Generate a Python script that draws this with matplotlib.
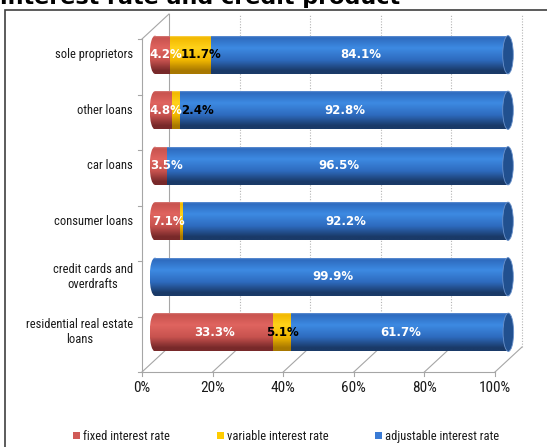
import numpy as np
import matplotlib
matplotlib.use('Agg')
import matplotlib.pyplot as plt
from matplotlib.colors import LinearSegmentedColormap
from matplotlib.patches import Ellipse, Rectangle
from matplotlib.lines import Line2D
from matplotlib.transforms import ScaledTranslation, IdentityTransform

# data, top row first
categories = ['sole proprietors', 'other loans', 'car loans', 'consumer loans',
              'credit cards and\noverdrafts', 'residential real estate\nloans']
fixed_rate = [4.2, 4.8, 3.5, 7.1, 0.1, 33.3]
variable_rate = [11.7, 2.4, 0.0, 0.7, 0.0, 5.1]
adjustable_rate = [84.1, 92.8, 96.5, 92.2, 99.9, 61.7]
series_names = ['fixed interest rate', 'variable interest rate', 'adjustable interest rate']
x_ticks = [0, 20, 40, 60, 80, 100]
title = 'interest rate and credit product'

# (edge, base, highlight, dark) for each series
shades = [
    ('#de918e', '#c8534f', '#e0645f', '#78292a'),
    ('#ffe27a', '#f2b800', '#ffd21a', '#a87800'),
    ('#7fa6dc', '#2e6bbf', '#3d8ae2', '#1a3a68'),
]
label_colors = ['white', 'black', 'white']
legend_colors = ['#d05a57', '#ffcc00', '#3a7bd5']

NARROW = ['Liberation Sans Narrow', 'DejaVu Sans Condensed', 'Roboto Condensed',
          'Open Sans Condensed', 'Noto Sans Condensed', 'Liberation Sans']

fig = plt.figure(figsize=(5.47, 4.47), dpi=100)
W, H = 547, 447
PX = (508 - 155) / 100.0          # pixels per percent in the bar plane
XMIN, XMAX = -5, 105
ax = fig.add_axes([(155 + XMIN * PX) / W, 1 - 360 / H,
                   (XMAX - XMIN) * PX / W, (360 - 27) / H])
ax.set_xlim(XMIN, XMAX)
ax.set_ylim(5.5, -0.5)
ax.axis('off')

bar_h = 0.69
cap_w = 3.0


def make_cmap(s):
    edge, base, hi, dark = s
    return LinearSegmentedColormap.from_list('c', [
        (0.0, edge), (0.06, base), (0.33, hi), (0.64, base), (0.92, dark), (1.0, dark)])


cmaps = [make_cmap(s) for s in shades]
grad = np.linspace(0, 1, 64).reshape(-1, 1)

series = [fixed_rate, variable_rate, adjustable_rate]
ypos = np.arange(len(categories))

for i, y in enumerate(ypos):
    vals = [s[i] for s in series]
    # rounded left end
    first = next(k for k, v in enumerate(vals) if v >= 0.5)
    ell = Ellipse((0, y), cap_w, bar_h, facecolor='none', edgecolor='none')
    ax.add_patch(ell)
    im = ax.imshow(grad, cmap=cmaps[first], aspect='auto', origin='upper',
                   extent=(-cap_w / 2, cap_w / 2, y + bar_h / 2, y - bar_h / 2), zorder=2)
    im.set_clip_path(ell)
    left = 0.0
    for k, v in enumerate(vals):
        if v <= 0:
            continue
        bar = ax.barh(y, v, left=left, height=bar_h, color='none', edgecolor='none')[0]
        im = ax.imshow(grad, cmap=cmaps[k], aspect='auto', origin='upper',
                       extent=(left, left + v, y + bar_h / 2, y - bar_h / 2), zorder=2)
        im.set_clip_path(bar)
        left += v
    # right cap
    ax.add_patch(Ellipse((left, y), cap_w, bar_h, facecolor='#21508f',
                         edgecolor='#6a92cc', lw=0.6, zorder=3))

    # data labels, pushed right so they do not overlap
    bound = -1.5
    left = 0.0
    for k, v in enumerate(vals):
        if v >= 1:
            txt = '%.1f%%' % v
            w = len(txt) * 2.2
            xl = max(left + v / 2 - w / 2, bound)
            ax.text(xl, y, txt, ha='left', va='center', fontsize=8.5,
                    fontweight='bold', color=label_colors[k], zorder=5)
            bound = xl + w
        left += v

ax.set_xlim(XMIN, XMAX)
ax.set_ylim(5.5, -0.5)

# pseudo 3d frame
front = ax.transData + ScaledTranslation(-0.13, -0.12, fig.dpi_scale_trans)
back = ax.transData + ScaledTranslation(0.14, 0.13, fig.dpi_scale_trans)
grid_c = '#a6a6a6'
y0, y1 = ax.get_ylim()

for x in x_ticks[1:]:
    ax.plot([x, x], [y0, y1], transform=back, color='#b4b4b4', lw=0.8,
            ls=(0, (1, 1.5)), zorder=1, clip_on=False)
ax.plot([0, 0], [y0, y1], transform=back, color=grid_c, lw=0.8, zorder=1, clip_on=False)
ax.plot([0, 0], [y0, y1], transform=front, color=grid_c, lw=0.8, zorder=1, clip_on=False)
ax.plot([0, 100], [y0, y0], transform=front, color=grid_c, lw=0.8, zorder=1, clip_on=False)


def link(x, y):
    a = front.transform((x, y))
    b = back.transform((x, y))
    fig.add_artist(Line2D([a[0], b[0]], [a[1], b[1]], transform=IdentityTransform(),
                          color=grid_c, lw=0.8, zorder=0))


for x in x_ticks:
    link(x, y0)
    a = front.transform((x, y0))
    fig.add_artist(Line2D([a[0], a[0]], [a[1], a[1] - 4], transform=IdentityTransform(),
                          color=grid_c, lw=0.8))
    fig.text(a[0] / W, (a[1] - 16) / H, '%d%%' % x, ha='center', va='center',
             fontsize=11, family=NARROW, color='#1a1a1a')
link(0, y1)
for yb in np.arange(-0.5, 6.0, 1.0):
    a = front.transform((0, yb))
    fig.add_artist(Line2D([a[0] - 4, a[0]], [a[1], a[1]], transform=IdentityTransform(),
                          color=grid_c, lw=0.8))

# category labels
lab_tf = ax.transData + ScaledTranslation(-0.22, 0, fig.dpi_scale_trans)
for y, c in zip(ypos, categories):
    ax.text(0, y, c, transform=lab_tf, ha='right', va='center', multialignment='center',
            fontsize=9, family=NARROW, color='#1a1a1a', linespacing=1.15)

# legend
for name, col, mx in zip(series_names, legend_colors, [73, 217, 375]):
    fig.add_artist(Rectangle((mx / W, 1 - 439 / H), 7 / W, 7 / H,
                             transform=fig.transFigure, color=col, lw=0))
    fig.text((mx + 10) / W, 1 - 436.5 / H, name, ha='left', va='center',
             fontsize=9, family=NARROW, color='#1a1a1a')

# chart border and title
fig.add_artist(Rectangle((5 / W, -0.1), 1.2, 1 - 10 / H + 0.1, transform=fig.transFigure,
                         fill=False, ec='#404040', lw=1.2))
fig.text(0.0, 1 - 4 / H, title, ha='left', va='baseline', fontsize=16,
         fontweight='bold', color='black')

fig.savefig('out.png', dpi=100)
